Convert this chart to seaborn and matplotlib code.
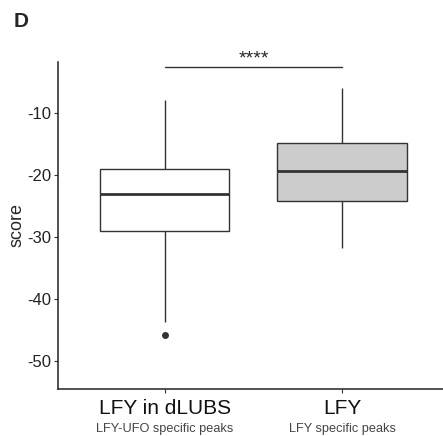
import seaborn as sns
import matplotlib.pyplot as plt
import matplotlib.transforms as mtransforms
import pandas as pd

# raw scores (quartiles, whiskers, outlier)
dlubs_scores = [-45.8, -43.7, -29.0, -26.0, -23.1, -21.0, -19.0, -12.0, -7.9]
lfy_scores = [-31.8, -27.0, -24.2, -21.5, -19.4, -17.0, -14.8, -10.0, -6.0]
groups = ['LFY in dLUBS', 'LFY']
subtitles = ['LFY-UFO specific peaks', 'LFY specific peaks']
fills = ['#ffffff', '#cccccc']
yticks = [-10, -20, -30, -40, -50]

df = pd.DataFrame({
    'group': [groups[0]] * len(dlubs_scores) + [groups[1]] * len(lfy_scores),
    'score': dlubs_scores + lfy_scores,
})

sns.set_style('white')
plt.rcParams['font.family'] = ['Liberation Sans', 'DejaVu Sans']

fig = plt.figure(figsize=(4.43, 4.36), dpi=100)
ax = fig.add_axes([0.131, 0.108, 0.869, 0.75])

line_c = '#333333'
sns.boxplot(data=df, x='group', y='score', hue='group', palette=fills,
            width=0.73, linewidth=1.0, linecolor=line_c, whis=1.5,
            showcaps=False,
            medianprops={'color': line_c, 'linewidth': 2.0},
            flierprops={'marker': 'o', 'markersize': 4, 'markerfacecolor': line_c,
                        'markeredgecolor': line_c},
            legend=False, ax=ax)

ax.set_xlim(-0.6, 1.567)
ax.set_ylim(-54.5, -1.8)
ax.set_yticks(yticks)
ax.set_yticklabels([str(t) for t in yticks], fontsize=12, color='#222222')
ax.set_ylabel('score', fontsize=13, labelpad=1)
ax.set_xlabel('')
ax.set_xticks([0, 1])
ax.set_xticklabels(groups, fontsize=15, color='#111111')
ax.tick_params(axis='both', length=3, width=0.8, color='#333333', direction='out')
ax.tick_params(axis='x', pad=4, bottom=True)
ax.tick_params(axis='y', pad=2, left=True)

for side in ['top', 'right']:
    ax.spines[side].set_visible(False)
for side in ['left', 'bottom']:
    ax.spines[side].set_color('#222222')
    ax.spines[side].set_linewidth(1.1)

# subtitles under the category names
trans = mtransforms.blended_transform_factory(ax.transData, ax.transAxes)
for i, s in enumerate(subtitles):
    ax.text(i, -0.123, s, transform=trans, ha='center', va='center',
            fontsize=9.2, color='#444444')

# significance bar
ax.plot([0, 1], [-2.7, -2.7], color='#333333', linewidth=1.0, clip_on=False)
ax.text(0.5, -1.4, '****', ha='center', va='center', fontsize=14,
        clip_on=False)

fig.text(0.03, 0.951, 'D', fontsize=15, fontweight='bold', va='center')

fig.savefig('out.png', dpi=100)
